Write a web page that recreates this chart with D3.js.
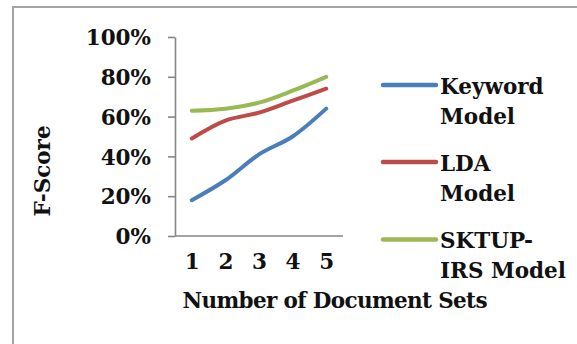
<!DOCTYPE html>
<html>
<head>
<meta charset="utf-8">
<script src="https://cdn.jsdelivr.net/npm/d3@7"></script>
<style>
  html, body { margin: 0; padding: 0; background: #fff; }
  svg { display: block; }
  text { font-family: "DejaVu Serif", "Liberation Serif", serif; font-weight: bold; fill: #111; }
</style>
</head>
<body>
<svg id="chart" width="577" height="344"></svg>
<script>
// Categories on the x axis (number of document sets)
const categories = ["1", "2", "3", "4", "5"];

// F-Score per model
const keywordModel = [0.18, 0.28, 0.41, 0.50, 0.64];
const ldaModel = [0.49, 0.58, 0.62, 0.68, 0.74];
const sktupModel = [0.63, 0.64, 0.67, 0.73, 0.80];

// Y axis ticks
const yTicks = [0, 0.2, 0.4, 0.6, 0.8, 1.0];

// Legend entries (label lines)
const seriesNames = [["Keyword", "Model"], ["LDA", "Model"], ["SKTUP-", "IRS Model"]];
const seriesColors = ["#4a7ebb", "#be4b48", "#98b954"];

const svg = d3.select("#chart");

// Frame around the chart area
svg.append("path")
  .attr("d", "M13,344 L13,7 L577,7")
  .attr("fill", "none")
  .attr("stroke", "#a3a3a3")
  .attr("stroke-width", 2);

const x = d3.scalePoint().domain(categories).range([175, 343]).padding(0.5);
const y = d3.scaleLinear().domain([0, 1]).range([236, 37]);

const fontSize = 21.5;

// Y axis
const yAxis = svg.append("g")
  .attr("transform", "translate(175,0)")
  .call(d3.axisLeft(y).tickValues(yTicks).tickFormat(d3.format(".0%")).tickSize(7).tickSizeOuter(0).tickPadding(17));
yAxis.selectAll("text").attr("font-size", fontSize).attr("font-family", null).attr("dy", "0.36em");
yAxis.selectAll("line, path").attr("stroke", "#868686").attr("stroke-width", 1.6);

// X axis
const xAxis = svg.append("g")
  .attr("transform", "translate(0,236)")
  .call(d3.axisBottom(x).tickSize(0).tickSizeOuter(0).tickPadding(18));
xAxis.select(".domain").attr("d", "M175,0H343");
xAxis.selectAll("text").attr("font-size", fontSize).attr("font-family", null);
xAxis.selectAll("line, path").attr("stroke", "#868686").attr("stroke-width", 1.6);

// Series lines
const allSeries = [keywordModel, ldaModel, sktupModel];
const line = d3.line()
  .x((d, i) => x(categories[i]))
  .y(d => y(d))
  .curve(d3.curveCatmullRom.alpha(0.5));

svg.append("g").selectAll("path")
  .data(allSeries)
  .join("path")
  .attr("d", d => line(d))
  .attr("fill", "none")
  .attr("stroke", (d, i) => seriesColors[i])
  .attr("stroke-width", 4)
  .attr("stroke-linecap", "round")
  .attr("stroke-linejoin", "round");

// Axis titles
svg.append("text")
  .attr("x", 335)
  .attr("y", 308)
  .attr("text-anchor", "middle")
  .attr("font-size", fontSize)
  .attr("textLength", 305)
  .text("Number of Document Sets");

svg.append("text")
  .attr("transform", "translate(50,171) rotate(-90)")
  .attr("text-anchor", "middle")
  .attr("font-size", fontSize)
  .text("F-Score");

// Legend
const legendY = [85, 162, 239.5];
const legend = svg.append("g").selectAll("g")
  .data(seriesNames)
  .join("g")
  .attr("transform", (d, i) => `translate(0,${legendY[i]})`);

legend.append("line")
  .attr("x1", 383).attr("x2", 436)
  .attr("y1", 0).attr("y2", 0)
  .attr("stroke", (d, i) => seriesColors[i])
  .attr("stroke-width", 4.5)
  .attr("stroke-linecap", "round");

legend.append("text")
  .attr("x", 440)
  .attr("y", 8.5)
  .attr("font-size", fontSize)
  .selectAll("tspan")
  .data(d => d)
  .join("tspan")
  .attr("x", 440)
  .attr("dy", (d, i) => i === 0 ? 0 : 30)
  .text(d => d);
</script>
</body>
</html>
